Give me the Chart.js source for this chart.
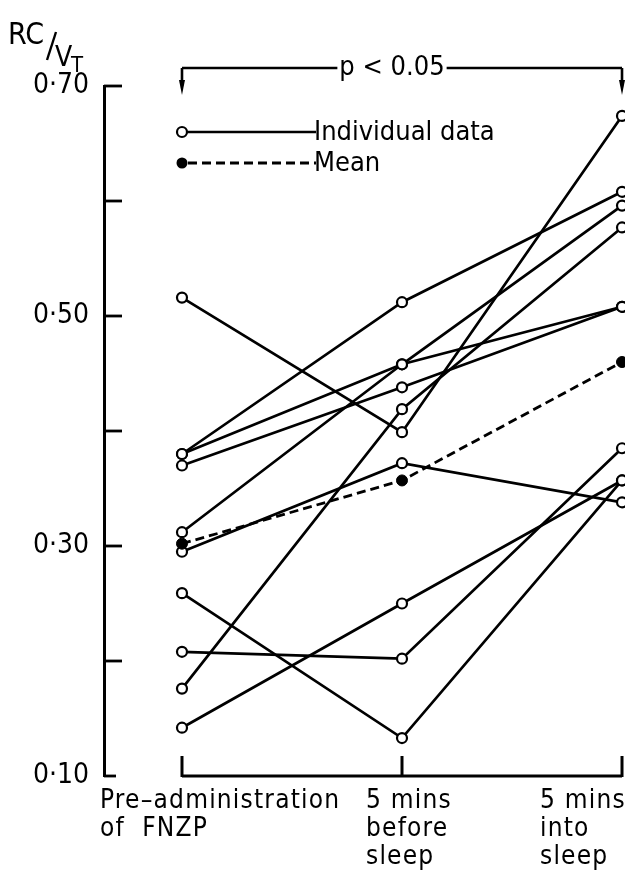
<!DOCTYPE html>
<html>
<head>
<meta charset="utf-8">
<script src="https://cdn.jsdelivr.net/npm/chart.js@4.4.0/dist/chart.umd.min.js"></script>
<style>
  html, body { margin: 0; padding: 0; background: #fff; overflow: hidden; }
  #wrap { width: 625px; height: 883px; position: relative; }
  canvas { display: block; }
</style>
</head>
<body>
<div id="wrap"><canvas id="c" width="625" height="883"></canvas></div>
<script>
// ---- data ----
const categories = ['Pre–administration of FNZP', '5 mins before sleep', '5 mins into sleep'];
const categoryLines = [['Pre–administration', 'of  FNZP'], ['5 mins', 'before', 'sleep'], ['5 mins', 'into', 'sleep']];
const yTickValues = [0.10, 0.20, 0.30, 0.40, 0.50, 0.60, 0.70];
const yTickLabels = ['0·10', '', '0·30', '', '0·50', '', '0·70'];

const subject1  = [0.516, 0.399, 0.674];
const subject2  = [0.380, 0.512, 0.608];
const subject3  = [0.380, 0.458, 0.508];
const subject4  = [0.370, 0.438, 0.508];
const subject5  = [0.312, 0.458, 0.596];
const subject6  = [0.295, 0.372, 0.338];
const subject7  = [0.259, 0.133, 0.357];
const subject8  = [0.208, 0.202, 0.385];
const subject9  = [0.176, 0.419, 0.577];
const subject10 = [0.142, 0.250, 0.357];
const meanValues = [0.302, 0.357, 0.460];

const individuals = [subject1, subject2, subject3, subject4, subject5, subject6, subject7, subject8, subject9, subject10];
const legendLabels = ['Individual data', 'Mean'];
const significanceLabel = 'p < 0.05';
const yTitle = ['RC', 'V', 'T'];

// ---- build chart ----
const FONT = '"DejaVu Sans Condensed", "Liberation Sans Narrow", sans-serif';
const toPoints = arr => arr.map((v, i) => ({ x: i, y: v }));

const datasets = individuals.map((s, k) => ({
  label: 'Subject ' + (k + 1),
  data: toPoints(s),
  borderColor: '#000',
  borderWidth: 2.7,
  pointRadius: 5,
  pointHoverRadius: 5,
  pointBorderWidth: 2.2,
  pointBorderColor: '#000',
  pointBackgroundColor: '#fff',
  tension: 0,
  fill: false,
  clip: false,
  order: 1
}));
datasets.push({
  label: 'Mean',
  data: toPoints(meanValues),
  borderColor: '#000',
  borderWidth: 2.8,
  borderDash: [9, 5],
  pointRadius: 5.5,
  pointHoverRadius: 5.5,
  pointBorderWidth: 1,
  pointBorderColor: '#000',
  pointBackgroundColor: '#000',
  tension: 0,
  fill: false,
  clip: false,
  order: 0
});

const decor = {
  id: 'decor',
  afterDraw(chart) {
    const ctx = chart.ctx;
    const xs = chart.scales.x, ys = chart.scales.y;
    const ca = chart.chartArea;
    const px = i => xs.getPixelForValue(i);
    ctx.save();
    ctx.strokeStyle = '#000';
    ctx.fillStyle = '#000';
    ctx.lineCap = 'butt';

    // inward y ticks
    ctx.lineWidth = 2.8;
    yTickValues.forEach(v => {
      const y = ys.getPixelForValue(v);
      const len = (v === 0.10) ? 12 : 18;
      ctx.beginPath(); ctx.moveTo(ca.left, y); ctx.lineTo(ca.left + len, y); ctx.stroke();
    });

    // bottom bracket
    const yb = ys.getPixelForValue(0.10);
    ctx.lineWidth = 3;
    ctx.beginPath(); ctx.moveTo(px(0), yb); ctx.lineTo(px(2), yb); ctx.stroke();
    [0, 1, 2].forEach(i => {
      ctx.beginPath(); ctx.moveTo(px(i), yb + 1); ctx.lineTo(px(i), yb - 20); ctx.stroke();
    });

    // category labels
    ctx.font = '26px ' + FONT;
    ctx.letterSpacing = '1.2px';
    ctx.textAlign = 'left';
    ctx.textBaseline = 'middle';
    const offs = [-82, -36, -82];
    categoryLines.forEach((lines, i) => {
      lines.forEach((t, j) => ctx.fillText(t, px(i) + offs[i], 801 + j * 28));
    });
    ctx.letterSpacing = '0px';

    // top significance bracket
    const yt = 68;
    ctx.font = '27px ' + FONT;
    ctx.textAlign = 'center';
    const cx = (px(0) + px(2)) / 2 - 10;
    const tw = ctx.measureText(significanceLabel).width;
    ctx.fillText(significanceLabel, cx, yt);
    ctx.lineWidth = 2.6;
    ctx.beginPath();
    ctx.moveTo(px(0), yt); ctx.lineTo(cx - tw / 2 - 2, yt);
    ctx.moveTo(cx + tw / 2 + 2, yt); ctx.lineTo(px(2), yt);
    ctx.stroke();
    [0, 2].forEach(i => {
      const x = px(i);
      ctx.beginPath(); ctx.moveTo(x, yt); ctx.lineTo(x, yt + 16); ctx.stroke();
      ctx.beginPath(); ctx.moveTo(x - 3, yt + 12); ctx.lineTo(x + 3, yt + 12); ctx.lineTo(x, yt + 27); ctx.closePath(); ctx.fill();
    });

    // legend
    ctx.font = '27px ' + FONT;
    ctx.textAlign = 'left';
    const lx0 = px(0);
    const ly1 = 132, ly2 = 163;
    ctx.lineWidth = 2.7;
    ctx.beginPath(); ctx.moveTo(lx0 + 5, ly1); ctx.lineTo(316, ly1); ctx.stroke();
    ctx.beginPath(); ctx.arc(lx0, ly1, 5, 0, Math.PI * 2); ctx.fillStyle = '#fff'; ctx.fill(); ctx.lineWidth = 2.2; ctx.stroke();
    ctx.fillStyle = '#000';
    ctx.fillText(legendLabels[0], 314, ly1 + 1);
    ctx.lineWidth = 2.8;
    ctx.setLineDash([9, 5]);
    ctx.beginPath(); ctx.moveTo(lx0 + 6, ly2); ctx.lineTo(316, ly2); ctx.stroke();
    ctx.setLineDash([]);
    ctx.beginPath(); ctx.arc(lx0, ly2, 5.5, 0, Math.PI * 2); ctx.fill();
    ctx.fillText(legendLabels[1], 314, ly2 + 1);

    // y title RC/VT
    ctx.textAlign = 'left';
    ctx.textBaseline = 'alphabetic';
    ctx.font = '30px ' + FONT;
    ctx.fillText(yTitle[0], 8, 44);
    ctx.lineWidth = 2.4;
    ctx.beginPath(); ctx.moveTo(56, 32); ctx.lineTo(47, 60); ctx.stroke();
    ctx.font = '28px ' + FONT;
    ctx.fillText(yTitle[1], 55, 66);
    ctx.font = '22px ' + FONT;
    ctx.fillText(yTitle[2], 71, 72);

    ctx.restore();
  }
};

new Chart(document.getElementById('c'), {
  type: 'line',
  data: { datasets },
  options: {
    responsive: false,
    animation: false,
    events: [],
    layout: { autoPadding: false, padding: { top: 86, bottom: 107, left: 0, right: 0 } },
    plugins: { legend: { display: false }, tooltip: { enabled: false } },
    scales: {
      x: {
        type: 'linear',
        min: -0.3545,
        max: 2.0136,
        display: false
      },
      y: {
        type: 'linear',
        min: 0.1,
        max: 0.7,
        afterFit: s => { s.width = 104; },
        afterBuildTicks: s => { s.ticks = yTickValues.map(v => ({ value: v })); },
        ticks: {
          color: '#000',
          font: { size: 28, family: FONT },
          padding: 15,
          callback: (v) => {
            const i = yTickValues.findIndex(t => Math.abs(t - v) < 1e-6);
            return i >= 0 ? yTickLabels[i] : '';
          }
        },
        grid: { display: true, drawOnChartArea: false, drawTicks: false, color: 'rgba(0,0,0,0)' },
        border: { display: true, color: '#000', width: 3 }
      }
    }
  },
  plugins: [decor]
});
</script>
</body>
</html>
